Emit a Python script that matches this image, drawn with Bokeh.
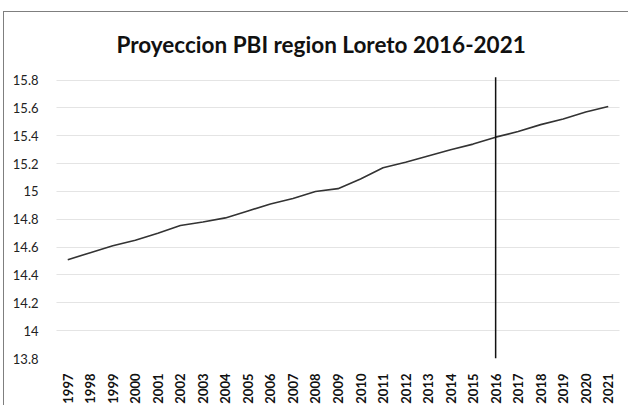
from bokeh.plotting import figure
from bokeh.models import FactorRange, Range1d, FixedTicker
from bokeh.embed import file_html
from bokeh.resources import INLINE
from math import pi

years = [str(y) for y in range(1997, 2022)]
pbi = [14.51, 14.56, 14.61, 14.65, 14.70, 14.755, 14.78, 14.81, 14.86, 14.91,
       14.95, 15.00, 15.02, 15.09, 15.17, 15.21, 15.255, 15.30, 15.34, 15.39,
       15.43, 15.48, 15.52, 15.57, 15.61]
y_ticks = [13.8, 14.0, 14.2, 14.4, 14.6, 14.8, 15.0, 15.2, 15.4, 15.6, 15.8]
y_tick_labels = ["13.8", "14", "14.2", "14.4", "14.6", "14.8", "15", "15.2", "15.4", "15.6", "15.8"]
marker_year = "2016"
marker_span = [13.8, 15.82]
title_text = "Proyeccion PBI region Loreto 2016-2021"

p = figure(width=625, height=394, x_range=FactorRange(*years),
           y_range=Range1d(13.8, 15.84), output_backend="svg",
           toolbar_location=None, min_border_left=52, min_border_right=10,
           min_border_top=62, min_border_bottom=48)
p.styles = {"border-left": "1px solid #7f7f7f", "border-top": "1px solid #7f7f7f",
            "margin-left": "3px", "margin-top": "11px"}

p.title.text = title_text
p.title.align = "left"
p.title.offset = 60
p.title.text_font = "Lato"
p.title.text_font_style = "bold"
p.title.text_font_size = "22.5px"
p.title.text_color = "#111111"
p.title.standoff = 33

p.outline_line_color = None
p.xgrid.grid_line_color = None
p.ygrid.grid_line_color = "#c8c8c8"
p.ygrid.grid_line_dash = "1 1"
p.ygrid.grid_line_width = 1

p.yaxis.ticker = FixedTicker(ticks=y_ticks)
p.yaxis.major_label_overrides = {t: l for t, l in zip(y_ticks, y_tick_labels)}
p.yaxis.axis_line_color = None
p.yaxis.major_tick_line_color = None
p.yaxis.minor_tick_line_color = None
p.yaxis.major_label_text_font = "Lato"
p.yaxis.major_label_text_font_size = "13px"
p.yaxis.major_label_text_color = "#222222"
p.yaxis.major_label_standoff = 12

p.xaxis.axis_line_color = None
p.xaxis.major_tick_line_color = None
p.xaxis.major_label_orientation = pi / 2
p.xaxis.major_label_text_font = "Lato"
p.xaxis.major_label_text_font_style = "bold"
p.xaxis.major_label_text_font_size = "13px"
p.xaxis.major_label_text_color = "#111111"
p.xaxis.major_label_standoff = 9

p.line(x=years, y=pbi, line_color="#333333", line_width=1.6)
p.segment(x0=[marker_year], y0=[marker_span[0]], x1=[marker_year], y1=[marker_span[1]],
          line_color="#111111", line_width=1.5)

open("out.html", "w").write(file_html(p, INLINE))
